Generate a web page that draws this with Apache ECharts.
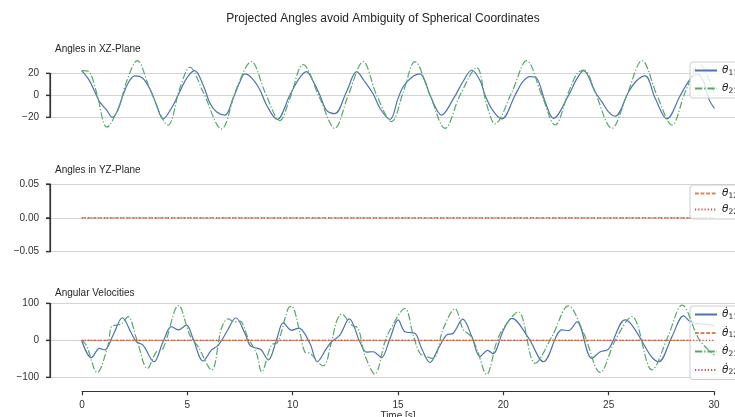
<!DOCTYPE html>
<html>
<head>
<meta charset="utf-8">
<script src="https://cdn.jsdelivr.net/npm/echarts@6/dist/echarts.min.js"></script>
<style>
html, body { margin: 0; padding: 0; background: #ffffff; }
#chart { width: 735px; height: 417px; }
</style>
</head>
<body>
<div id="chart"></div>
<script>
// ---- data: [time (s), value] pairs ----
const timeTicks = [0, 5, 10, 15, 20, 25, 30];
const xzTicks = [-20, 0, 20];
const yzTicks = [-0.05, 0, 0.05];
const velTicks = [-100, 0, 100];

// projected angles in the XZ-plane (deg)
const theta11 = [[0,22.5],[0.35,14],[0.7,0],[0.85,-5.8],[1.17,-13],[1.46,-20],[1.7,-14],[1.96,0],[2.2,11],[2.52,17.6],[2.9,15.5],[3.3,3.3],[3.55,-9],[3.86,-21.5],[4.34,-9],[4.57,0],[5.0,16],[5.36,22.4],[5.76,9.4],[6.08,-7],[6.39,-15],[6.79,-18],[7.18,-3],[7.5,12],[7.74,19.4],[8.1,15],[8.45,5],[8.77,-9],[9.27,-22],[9.87,0],[10.3,15],[10.66,21.5],[11.0,12],[11.3,0],[11.61,-13.6],[12.0,-16.7],[12.56,3.3],[13.04,21.5],[13.4,13],[13.83,1],[14.15,-12],[14.62,-22],[15.0,-3],[15.25,8],[15.7,17],[16.04,19.4],[16.3,12],[16.52,0],[17.07,-18],[17.63,-3],[18.1,13],[18.5,23],[18.9,13],[19.13,0],[19.5,-14],[19.92,-21.5],[20.55,0],[20.9,12],[21.26,17],[21.58,15.5],[21.98,-6],[22.37,-21],[23.09,0],[23.45,14],[23.8,22.4],[24.35,3],[24.67,-6],[24.98,-15],[25.3,-19],[25.93,3],[26.3,13],[26.72,17.6],[27.2,-3],[27.75,-21.5],[28.39,0],[28.86,15],[29.2,19.5],[29.5,12],[29.73,-3],[30,-12]];
const theta21 = [[0,22.5],[0.3,22],[0.7,3],[1.2,-29],[1.8,-9],[2.12,12],[2.64,31.5],[3.23,6],[4.1,-27],[4.65,6],[5.13,25.5],[5.76,3],[6.63,-30.6],[7.34,6],[8.05,30.6],[8.69,3],[9.4,-23],[9.87,-3],[10.5,28],[11.3,-3],[12.0,-30],[12.64,0],[13.35,30.6],[13.99,0],[14.7,-24],[15.25,3],[15.8,30.6],[16.52,0],[17.23,-30],[17.94,0],[18.73,25],[19.2,-8],[19.6,-26],[20.4,3],[21.1,31.5],[21.82,0],[22.45,-27],[23.09,3],[23.5,20],[23.8,23],[24.0,20],[24.35,3],[25.14,-30],[25.85,0],[26.57,31.5],[27.28,0],[27.99,-27],[28.62,3],[29.3,28],[30,2]];

// projected angles in the YZ-plane (rad)
const theta12 = [[0,0],[30,0]];
const theta22 = [[0,0],[30,0]];

// angular velocities (deg/s)
const dtheta11 = [[0,0],[0.46,-47],[0.85,-22],[1.09,-26],[1.5,15],[1.93,61],[2.36,19],[2.6,-4],[2.91,-13],[3.43,-58],[3.86,-4],[4.26,37],[4.58,28],[4.97,41],[5.28,5],[5.76,-56],[6.16,-26],[6.48,-13],[6.9,25],[7.31,61],[7.74,19],[7.97,-13],[8.21,-20],[8.5,-25],[8.85,-53],[9.24,1],[9.56,47],[9.95,27],[10.3,33],[10.82,-8],[11.17,-58],[11.61,-22],[11.85,-4],[12.24,14],[12.69,58],[13.19,-4],[13.51,-32],[13.83,-31],[14.06,-40],[14.22,-47],[14.62,5],[15.01,55],[15.33,23],[15.8,19],[16.12,-22],[16.52,-60],[16.91,-22],[17.3,14],[17.62,19],[18.07,57],[18.5,10],[18.89,-44],[19.25,-27],[19.5,-36],[20.0,28],[20.4,59],[21.2,5],[21.9,-58],[22.77,28],[23.09,26],[23.48,50],[24.19,-49],[24.59,-31],[24.98,-24],[25.77,55],[26.09,41],[27.36,-58],[27.99,10],[28.54,66],[28.86,50],[29.3,45],[30,40]];
const dtheta12 = [[0,0],[30,0]];
const dtheta21 = [[0,0],[0.22,-13],[0.74,-87],[1.25,-13],[1.41,37],[1.65,41],[1.9,45],[2.2,64],[2.6,5],[3.12,-76],[3.54,-31],[3.86,-22],[4.6,94],[5.13,14],[5.52,-17],[6.16,-80],[6.63,32],[6.95,58],[7.26,50],[7.5,52],[7.9,5],[8.29,-35],[8.53,-85],[9.0,-13],[9.3,-5],[9.79,86],[9.95,92],[10.34,23],[10.58,-31],[10.82,-35],[11.45,-69],[11.85,-4],[12.08,50],[12.32,71],[12.8,41],[13.11,32],[13.43,-40],[13.9,-91],[14.38,-4],[14.62,28],[15.33,86],[15.72,14],[16.04,-35],[16.36,-44],[16.67,-49],[17.15,32],[17.7,85],[18.1,28],[18.41,14],[18.73,-22],[19.2,-92],[19.68,-4],[19.99,32],[20.7,77],[21.5,-62],[22.3,10],[23.08,93],[23.8,20],[24.59,-87],[25.3,0],[26.09,64],[27.04,-80],[27.8,10],[28.47,95],[29.3,0],[30,-40]];
const dtheta22 = [[0,0],[30,0]];

// ---- styling ----
const FONT = 'Liberation Sans, Arial, sans-serif';
const C_BLUE = '#4c72b0', C_ORANGE = '#dd8452', C_GREEN = '#55a868', C_RED = '#c44e52';
const LW = 1.2;
const DASHED = [3.8, 1.8];
const DASHDOT = [7.2, 2, 1.3, 2];
const DOTTED = [1.2, 2];
const SPINE = '#333333';
const GRIDC = '#d4d4d4';
const TXT = '#303030';

const PLOT_LEFT = 50, PLOT_WIDTH = 696;   // x-range -1.5 .. 31.5 s
const TICK_LEN = 4;
const signed = v => v < 0 ? '\u2212' + Math.abs(v) : String(v);
const panels = [
  { top: 73.3, height: 44, min: -20, max: 20, interval: 20, ticks: xzTicks, fmt: signed },
  { top: 184, height: 67.7, min: -0.05, max: 0.05, interval: 0.05, ticks: yzTicks,
    fmt: v => { const s = Math.abs(v) < 1e-9 ? '0.00' : Math.abs(v).toFixed(2); return v < -1e-9 ? '\u2212' + s : s; } },
  { top: 303.3, height: 74, min: -100, max: 100, interval: 100, ticks: velTicks, fmt: signed }
];

const grids = [], xAxes = [], yAxes = [];
// plot areas: data, trimmed left spine, horizontal grid lines and tick labels
panels.forEach((p, i) => {
  grids.push({ left: PLOT_LEFT, width: PLOT_WIDTH, top: p.top, height: p.height, outerBoundsMode: 'none' });
  xAxes.push({ gridIndex: i, type: 'value', min: -1.5, max: 31.5, show: false });
  yAxes.push({
    gridIndex: i, type: 'value', min: p.min, max: p.max, interval: p.interval,
    axisLine: { show: true, onZero: false, lineStyle: { color: SPINE, width: 1.2 } },
    axisTick: { show: true, length: TICK_LEN, lineStyle: { color: SPINE, width: 1.2 } },
    axisLabel: { show: true, margin: 11, color: TXT, fontFamily: FONT, fontSize: 10, formatter: p.fmt },
    splitLine: { show: true, lineStyle: { color: GRIDC, width: 1 } }
  });
});
// trimmed time axis below the last panel
{
  const g = grids.length;
  grids.push({ left: 82, width: 632, top: 303.3, height: 74, outerBoundsMode: 'none' });
  xAxes.push({
    gridIndex: g, type: 'value', min: 0, max: 30, interval: 5, offset: 14,
    axisLine: { show: true, onZero: false, lineStyle: { color: SPINE, width: 1.2 } },
    axisTick: { show: true, length: TICK_LEN, lineStyle: { color: SPINE, width: 1.2 } },
    axisLabel: { show: true, margin: 9, color: TXT, fontFamily: FONT, fontSize: 10, customValues: timeTicks },
    splitLine: { show: false },
    name: 'Time [s]', nameLocation: 'middle', nameGap: 18,
    nameTextStyle: { color: TXT, fontFamily: FONT, fontSize: 10 }
  });
  yAxes.push({ gridIndex: g, type: 'value', min: 0, max: 1, show: false });
}

// the same spines as graphic strokes, from each panel's linear y scale
const spineStyle = { stroke: SPINE, lineWidth: 1.2 };
const spineElements = [];
panels.forEach(p => {
  const yOf = v => p.top + (p.max - v) / (p.max - p.min) * p.height;
  spineElements.push({ type: 'line', silent: true, z: 100, shape: { x1: PLOT_LEFT, y1: yOf(p.max), x2: PLOT_LEFT, y2: yOf(p.min) }, style: spineStyle });
  p.ticks.forEach(t => {
    const y = yOf(t);
    spineElements.push({ type: 'line', silent: true, z: 100, shape: { x1: PLOT_LEFT - TICK_LEN, y1: y, x2: PLOT_LEFT, y2: y }, style: spineStyle });
  });
});

function line(name, data, idx, color, dash, z) {
  return {
    name, type: 'line', data, xAxisIndex: idx, yAxisIndex: idx,
    symbol: 'none', smooth: 0.35, clip: false, z: z || 2,
    lineStyle: { color, width: LW, type: dash || 'solid' },
    itemStyle: { color },
    emphasis: { disabled: true }, animation: false
  };
}

const series = [
  line('θ11', theta11, 0, C_BLUE),
  line('θ21', theta21, 0, C_GREEN, DASHDOT, 3),
  line('θ12', theta12, 1, C_ORANGE, DASHED),
  line('θ22', theta22, 1, C_RED, DOTTED, 3),
  line('θ̇11', dtheta11, 2, C_BLUE),
  line('θ̇12', dtheta12, 2, C_ORANGE, DASHED, 3),
  line('θ̇21', dtheta21, 2, C_GREEN, DASHDOT, 4),
  line('θ̇22', dtheta22, 2, C_RED, DOTTED, 5)
];

function legendLabel(name) {
  const base = name.slice(0, name.length - 2);
  const sub = name.slice(-2);
  return '{th|' + base + '}{sub|' + sub + '}';
}
const legendText = {
  color: '#262626',
  rich: {
    th: { fontFamily: 'DejaVu Sans', fontStyle: 'italic', fontSize: 10.5, color: '#262626' },
    sub: { fontFamily: 'DejaVu Sans', fontSize: 7.5, color: '#262626', padding: [5, 0, 0, 0] }
  }
};
function legend(names, top, gap) {
  return {
    data: names, orient: 'vertical', left: 690, top, itemWidth: 22, itemHeight: 10, itemGap: gap,
    padding: [3, 30, 3, 4], backgroundColor: 'rgba(255,255,255,0.8)',
    borderColor: '#cccccc', borderWidth: 1, borderRadius: 3,
    itemStyle: { opacity: 0 },
    formatter: legendLabel, textStyle: legendText, selectedMode: false
  };
}

const option = {
  backgroundColor: '#ffffff',
  animation: false,
  title: [
    { text: 'Projected Angles avoid Ambiguity of Spherical Coordinates', left: 378, top: 8, textAlign: 'center',
      textStyle: { fontFamily: FONT, fontSize: 12, fontWeight: 'normal', color: '#262626' } },
    { text: 'Angles in XZ-Plane', left: 50, top: 39, textStyle: { fontFamily: FONT, fontSize: 10, fontWeight: 'normal', color: '#262626' } },
    { text: 'Angles in YZ-Plane', left: 50, top: 160, textStyle: { fontFamily: FONT, fontSize: 10, fontWeight: 'normal', color: '#262626' } },
    { text: 'Angular Velocities', left: 50, top: 283, textStyle: { fontFamily: FONT, fontSize: 10, fontWeight: 'normal', color: '#262626' } }
  ],
  grid: grids,
  xAxis: xAxes,
  yAxis: yAxes,
  legend: [
    legend(['θ11', 'θ21'], 62, 6),
    legend(['θ12', 'θ22'], 185, 4),
    legend(['θ̇11', 'θ̇12', 'θ̇21', 'θ̇22'], 306, 6.5)
  ],
  graphic: { elements: spineElements },
  series
};

const chart = echarts.init(document.getElementById('chart'), null, { renderer: 'canvas' });
chart.setOption(option);
</script>
</body>
</html>
